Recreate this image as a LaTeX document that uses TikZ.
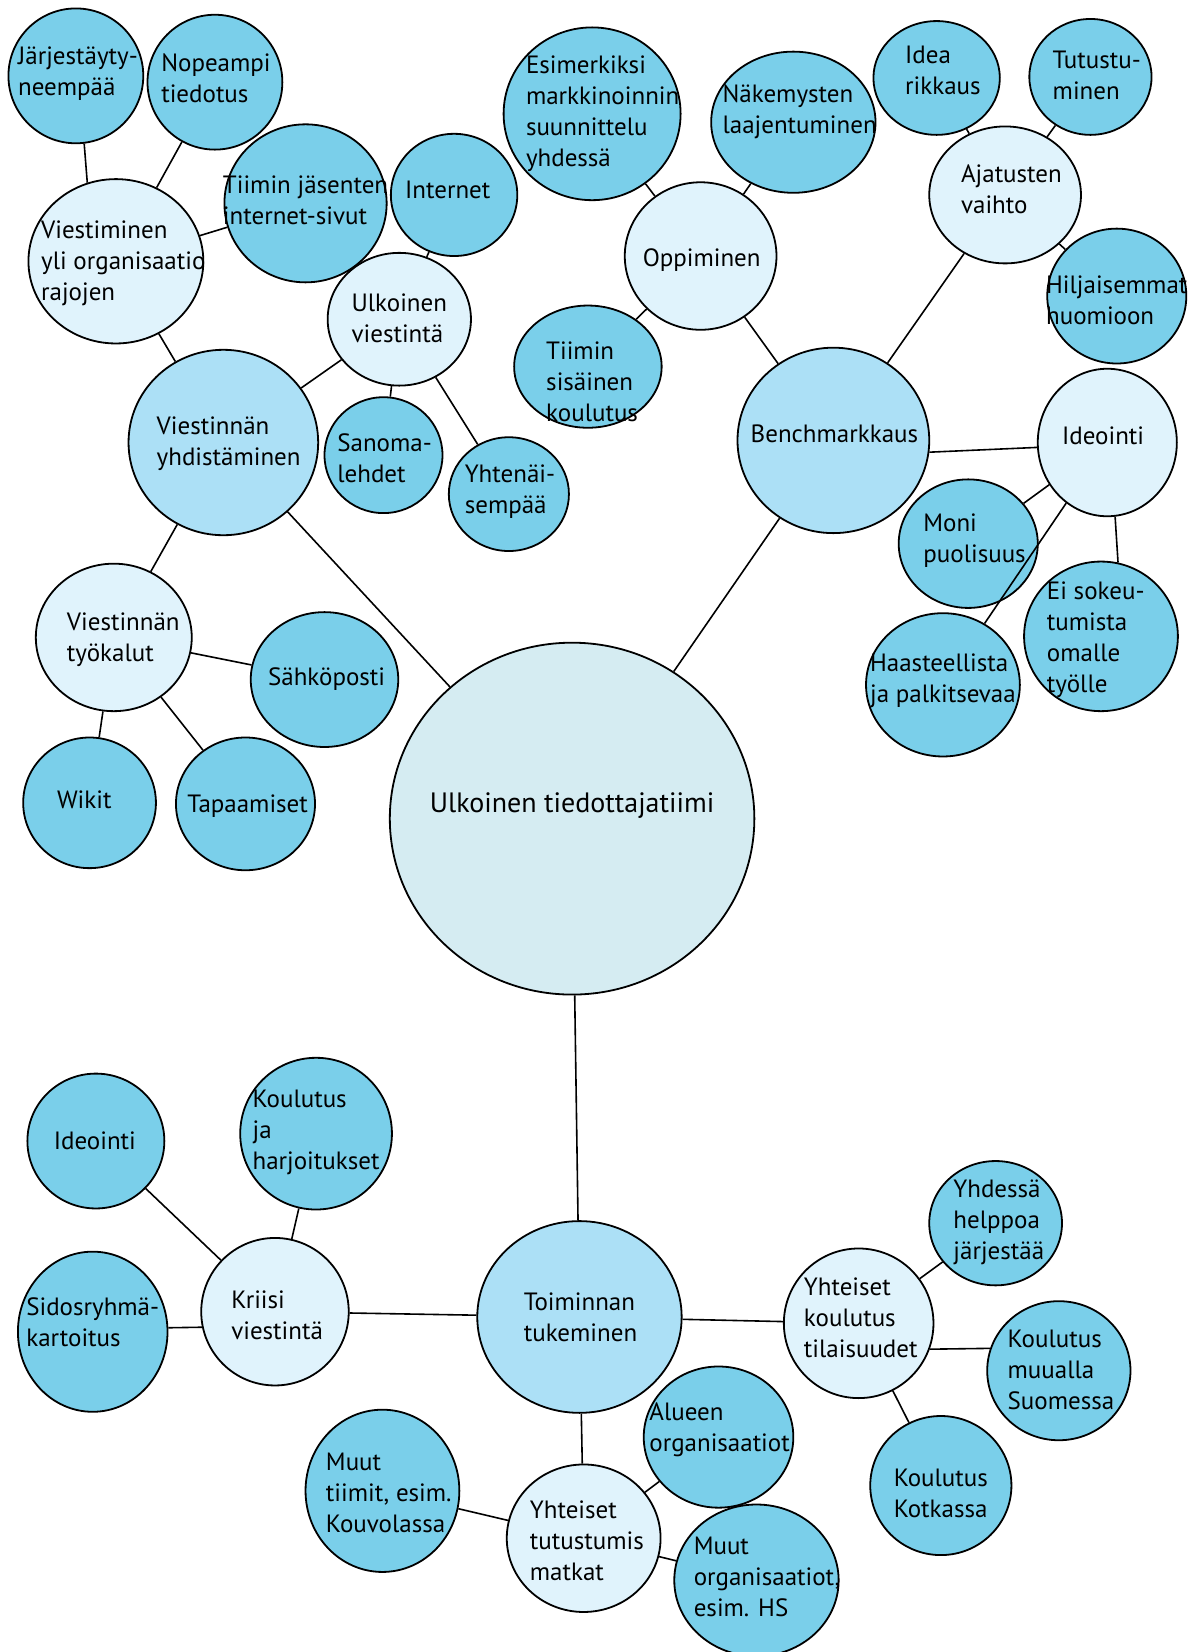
\documentclass[tikz,border=0pt]{standalone}
\usepackage{fontspec}
\setmainfont{PT Sans}
\usetikzlibrary{shapes.geometric}
\definecolor{leafc}{RGB}{122,207,234}
\definecolor{midc}{RGB}{172,224,246}
\definecolor{lightc}{RGB}{224,243,252}
\definecolor{corec}{RGB}{213,236,242}
\begin{document}
\begin{tikzpicture}[x=0.527pt,y=-0.527pt,
  bub/.style 2 args={ellipse, draw=black, line width=0.9pt, minimum width=#1*1.054pt, minimum height=#2*1.054pt, inner sep=0pt},
  cleaf/.style={fill=leafc},
  cmid/.style={fill=midc},
  clight/.style={fill=lightc},
  ccore/.style={fill=corec},
  txt/.style={align=left, font=\fontsize{12.5}{15.5}\selectfont, inner sep=0pt},
  link/.style={line width=0.8pt}]
\useasboundingbox (0,0) rectangle (1129,1568);

% bubbles
\node[bub={64}{64},cleaf] (jarj) at (72,72) {};
\node[bub={64}{64},cleaf] (nope) at (204,78) {};
\node[bub={83}{78},clight] (vyli) at (110,248) {};
\node[bub={77}{75},cleaf] (tiimi) at (290,193) {};
\node[bub={60}{58},cleaf] (inet) at (431,185) {};
\node[bub={68}{63},clight] (ulkv) at (379,303) {};
\node[bub={90}{88},cmid] (vyhd) at (212,420) {};
\node[bub={56}{55},cleaf] (sano) at (364,432) {};
\node[bub={57}{54},cleaf] (yhte) at (483,469) {};
\node[bub={74}{70},clight] (vtyo) at (108,605) {};
\node[bub={70}{64},cleaf] (sahk) at (308,645) {};
\node[bub={63}{62},cleaf] (wiki) at (85,762) {};
\node[bub={66}{63},cleaf] (tapa) at (233,763) {};
\node[bub={173}{167},ccore] (core) at (543,777) {};
\node[bub={84}{82},cleaf] (esim) at (562,108) {};
\node[bub={78}{67},cleaf] (nake) at (753,116) {};
\node[bub={60}{54},cleaf] (idea) at (889,74) {};
\node[bub={58}{55},cleaf] (tutu) at (1035,73) {};
\node[bub={72}{65},clight] (ajat) at (954,185) {};
\node[bub={66}{64},cleaf] (hilj) at (1060,281) {};
\node[bub={72}{70},clight] (oppi) at (665,243) {};
\node[bub={70}{58},cleaf] (tsis) at (558,348) {};
\node[bub={91}{88},cmid] (benc) at (791,418) {};
\node[bub={66}{70},clight] (ideo) at (1051,420) {};
\node[bub={66}{61},cleaf] (moni) at (919,516) {};
\node[bub={73}{71},cleaf] (eiso) at (1045,604) {};
\node[bub={73}{68},cleaf] (haas) at (895,650) {};
\node[bub={97}{91},cmid] (toim) at (550,1250) {};
\node[bub={65}{64},cleaf] (ideb) at (91,1083) {};
\node[bub={72}{72},cleaf] (kouh) at (300,1076) {};
\node[bub={71}{76},cleaf] (sido) at (88,1264) {};
\node[bub={70}{70},clight] (krii) at (261,1245) {};
\node[bub={71}{71},clight] (ykou) at (815,1256) {};
\node[bub={63}{59},cleaf] (yhde) at (945,1161) {};
\node[bub={68}{66},cleaf] (kmuu) at (1005,1301) {};
\node[bub={67}{66},cleaf] (kotk) at (893,1410) {};
\node[bub={71}{67},cleaf] (alue) at (682,1364) {};
\node[bub={73}{77},cleaf] (muti) at (363,1415) {};
\node[bub={73}{70},clight] (ytut) at (554,1460) {};
\node[bub={78}{72},cleaf] (muor) at (718,1500) {};

% connectors
\draw[link] (core) -- (vyhd);
\draw[link] (core) -- (benc);
\draw[link] (core) -- (toim);
\draw[link] (vyhd) -- (vyli);
\draw[link] (vyhd) -- (ulkv);
\draw[link] (vyhd) -- (vtyo);
\draw[link] (jarj.-83) -- (vyli.110);
\draw[link] (vyli) -- (nope);
\draw[link] (vyli) -- (tiimi);
\draw[link] (ulkv) -- (inet);
\draw[link] (ulkv) -- (sano);
\draw[link] (ulkv) -- (yhte);
\draw[link] (vtyo) -- (sahk);
\draw[link] (vtyo) -- (wiki);
\draw[link] (vtyo) -- (tapa);
\draw[link] (benc) -- (oppi);
\draw[link] (benc) -- (ajat);
\draw[link] (benc.-7) -- (ideo.184);
\draw[link] (oppi) -- (esim);
\draw[link] (oppi) -- (nake);
\draw[link] (oppi) -- (tsis);
\draw[link] (ajat) -- (idea);
\draw[link] (ajat) -- (tutu);
\draw[link] (ajat) -- (hilj);
\draw[link] (ideo) -- (moni);
\draw[link] (ideo.-84) -- (eiso.77);
\draw[link] (ideo) -- (haas);
\draw[link] (toim) -- (krii);
\draw[link] (toim) -- (ykou);
\draw[link] (toim) -- (ytut);
\draw[link] (krii) -- (ideb);
\draw[link] (krii) -- (kouh);
\draw[link] (sido.3) -- (krii.192);
\draw[link] (ykou) -- (yhde);
\draw[link] (ykou.-20) -- (kmuu.162);
\draw[link] (ykou) -- (kotk);
\draw[link] (ytut) -- (muti);
\draw[link] (ytut) -- (alue);
\draw[link] (ytut) -- (muor);

% texts
\node[txt] (tjarj) at (74,70) {Järjestäyty-\\neempää};
\node[txt] (tnope) at (205,74) {Nopeampi\\tiedotus};
\node[txt] (tvyli) at (117,250) {Viestiminen\\yli organisaatio\\rajojen};
\node[txt] (ttiimi) at (290,190) {Tiimin jäsenten\\internet-sivut};
\node[txt] (tinet) at (425,180) {Internet};
\node[txt] (tulkv) at (379,302) {Ulkoinen\\viestintä};
\node[txt] (tvyhd) at (217,421) {Viestinnän\\yhdistäminen};
\node[txt] (tsano) at (365,435) {Sanoma-\\lehdet};
\node[txt] (tyhte) at (484,467) {Yhtenäi-\\sempää};
\node[txt] (tvtyo) at (117,607) {Viestinnän\\työkalut};
\node[txt] (tsahk) at (310,645) {Sähköposti};
\node[txt] (twiki) at (80,759) {Wikit};
\node[txt] (ttapa) at (235,765) {Tapaamiset};
\node[txt, font=\fontsize{14}{17}\selectfont] (tcore) at (543,765) {Ulkoinen tiedottajatiimi};
\node[txt] (tesim) at (572,108) {Esimerkiksi\\markkinoinnin\\suunnittelu\\yhdessä};
\node[txt] (tnake) at (759,106) {Näkemysten\\laajentuminen};
\node[txt] (tidea) at (895,67) {Idea\\rikkaus};
\node[txt] (ttutu) at (1041,72) {Tutustu-\\minen};
\node[txt] (tajat) at (960,180) {Ajatusten\\vaihto};
\node[txt] (thilj) at (1060,285) {Hiljaisemmat\\huomioon};
\node[txt] (toppi) at (666,247) {Oppiminen};
\node[txt] (ttsis) at (562,362) {Tiimin\\sisäinen\\koulutus};
\node[txt] (tbenc) at (792,412) {Benchmarkkaus};
\node[txt] (tideo) at (1047,414) {Ideointi};
\node[txt] (tmoni) at (925,513) {Moni\\puolisuus};
\node[txt] (teiso) at (1040,607) {Ei sokeu-\\tumista\\omalle\\työlle};
\node[txt] (thaas) at (895,646) {Haasteellista\\ja palkitsevaa};
\node[txt] (tideb) at (90,1083) {Ideointi};
\node[txt] (tkouh) at (300,1075) {Koulutus\\ja\\harjoitukset};
\node[txt] (tsido) at (88,1255) {Sidosryhmä-\\kartoitus};
\node[txt] (tkrii) at (263,1248) {Kriisi\\viestintä};
\node[txt] (ttoim) at (551,1250) {Toiminnan\\tukeminen};
\node[txt] (tykou) at (817,1251) {Yhteiset\\koulutus\\tilaisuudet};
\node[txt] (tyhde) at (948,1160) {Yhdessä\\helppoa\\järjestää};
\node[txt] (tkmuu) at (1007,1300) {Koulutus\\muualla\\Suomessa};
\node[txt] (tkotk) at (893,1417) {Koulutus\\Kotkassa};
\node[txt] (talue) at (683,1357) {Alueen\\organisaatiot};
\node[txt] (tmuti) at (369,1417) {Muut\\tiimit, esim.\\Kouvolassa};
\node[txt] (tytut) at (557,1462) {Yhteiset\\tutustumis\\matkat};
\node[txt] (tmuor) at (728,1497) {Muut\\organisaatiot,\\esim. HS};
\end{tikzpicture}
\end{document}
